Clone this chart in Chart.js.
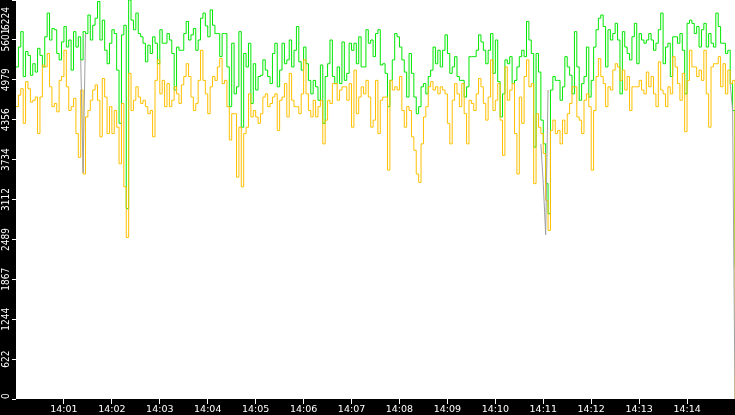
<!DOCTYPE html>
<html>
<head>
<meta charset="utf-8">
<script src="https://cdn.jsdelivr.net/npm/chart.js@4.4.1/dist/chart.umd.min.js"></script>
<style>
  html, body { margin: 0; padding: 0; background: #000; }
  #chart { display: block; }
</style>
</head>
<body>
<canvas id="chart" width="735" height="415"></canvas>
<script>
// one sample every 3 seconds starting at 14:00:00
const STEP = 3;

const xTickLabels = ['14:01', '14:02', '14:03', '14:04', '14:05', '14:06', '14:07',
                     '14:08', '14:09', '14:10', '14:11', '14:12', '14:13', '14:14'];
const yTickLabels = ['0', '622', '1244', '1867', '2489', '3112', '3734', '4356', '4979', '5601', '6224'];

const greenValues = [
  5180, 5490, 5730, 5030, 5420, 5360, 5050, 5230, 5100, 5470, 5360, 5180, 5650, 6020, 5600, 5780, 5760, 5390, 5290, 5570,
  5810, 5490, 5600, 5130, 5730, 5490, 5650, 5290, 5730, 5700, 5990, 5600, 5830, 5940, 6200, 5600, 5910, 5440,
  5230, 5550, 5760, 5700, 5130, 4300, 5680, 5830, 2970, 6224, 5910, 5760, 6020, 5700, 5650, 5550, 5260, 5520, 5390, 5650,
  5550, 5230, 5760, 5550, 5550, 5700, 5600, 5390, 4820, 5490, 5440, 5440, 5700, 5890, 5600, 5680, 5780, 5440,
  5600, 5940, 6020, 5820, 5650, 6070, 5830, 5700, 5700, 5340, 5700, 5700, 5180, 4560, 5550, 4760, 4870, 5730, 4240, 5390,
  5180, 5550, 4610, 5230, 4820, 5030, 5050, 5290, 5130, 5030, 4920, 5390, 5550, 4870, 5130, 5550, 5230,
  5290, 5600, 5180, 5440, 5810, 5260, 5130, 5490, 5230, 4970, 4760, 4970, 4870, 4660, 5210, 4300, 5030, 5230, 5600, 5030,
  4920, 5180, 4920, 5570, 4970, 5080, 5550, 5440, 5550, 5230, 5650, 5180, 5180, 5760, 5550, 5600, 5340, 5700,
  5760, 5210, 5230, 5080, 4560, 4970, 5290, 5700, 5650, 5490, 5290, 5100, 4710, 5390, 5080, 4710, 4450, 4560, 4870, 4920,
  4760, 5030, 5130, 5490, 5230, 5440, 5180, 5440, 5680, 5390, 5080, 5180, 5340, 5030, 4970, 4970, 4710,
  4870, 5340, 5340, 5340, 5440, 5680, 5570, 5440, 5230, 5440, 5700, 5080, 5600, 4950, 4400, 4760, 5290, 5230, 5340, 4920,
  4970, 5180, 5340, 5440, 5340, 5890, 5600, 5390, 3930, 5390, 5100, 4350, 3980, 3360, 2890, 4820, 5030, 4970,
  4970, 4660, 4870, 5340, 5180, 5050, 4760, 5730, 5180, 4660, 4920, 5030, 5490, 4710, 4970, 5490, 5760, 5940, 5990, 5810,
  5180, 5760, 5600, 5700, 5860, 5600, 4760, 5730, 5490, 5390, 5290, 5650, 5860, 5230, 5700, 5600, 5550,
  5600, 5700, 5600, 5440, 5550, 5760, 6020, 5230, 5490, 5550, 5030, 5650, 5650, 5550, 5700, 5440, 4760, 5860, 5910, 5860,
  5700, 5810, 5490, 5760, 5860, 5490, 5700, 5550, 5490, 6020, 5810, 5550, 5550, 5390, 5440, 4920, 4500, 2050
];

const orangeValues = [
  4560, 4740, 4840, 4300, 4950, 4840, 4630, 4660, 4710, 4140, 4710, 5210, 5180, 5390, 4870, 4560, 4610, 4480, 4970, 5030,
  5440, 4870, 4500, 4560, 4690, 4140, 3770, 4820, 3510, 4400, 4500, 4660, 4820, 4900, 4660, 4090, 5000, 4710,
  4140, 4560, 4140, 4500, 4240, 3670, 4610, 3310, 2520, 5080, 4500, 4660, 4870, 4710, 4610, 4660, 4560, 4450, 4500, 4090,
  4970, 5290, 4760, 4970, 4560, 4920, 4560, 4660, 4870, 4760, 4610, 4900, 5030, 5230, 5030, 4710, 4500, 4610,
  4970, 5440, 4970, 4760, 4450, 4870, 5030, 4970, 5180, 5310, 4920, 4970, 4560, 4040, 4450, 4450, 3460, 4240, 3310, 4140,
  4240, 4760, 4400, 4500, 4400, 4300, 4450, 4710, 4760, 4560, 4610, 4710, 4760, 4190, 4660, 4710, 4920,
  4400, 5080, 4660, 4560, 4560, 4450, 4760, 5290, 4760, 4500, 4400, 4660, 4400, 4560, 4660, 3980, 4350, 4660, 4610, 4920,
  4920, 4660, 4820, 4870, 4870, 4660, 4920, 4240, 5130, 4450, 4710, 4870, 4760, 4970, 4710, 4240, 4350, 4970,
  4140, 4660, 4710, 4710, 3570, 4970, 4820, 4870, 4820, 5030, 4500, 4240, 4560, 4500, 4090, 3880, 3510, 3380, 3980, 4400,
  4560, 4870, 4950, 4820, 4870, 4760, 4870, 4820, 4760, 4300, 3980, 4660, 4920, 4760, 4560, 4920, 4450,
  3980, 4660, 4610, 4500, 4760, 5000, 4870, 4610, 4350, 4710, 5290, 4500, 4660, 4920, 4350, 3800, 5180, 4660, 4820, 4920,
  4140, 3510, 4710, 4300, 5030, 5290, 4870, 4920, 3360, 4450, 4240, 4140, 3830, 3100, 2630, 4190, 4350, 4140,
  4190, 3980, 4350, 4140, 4450, 4610, 4870, 4870, 4400, 4350, 4140, 4660, 4760, 4560, 3570, 4500, 5030, 5310, 5030, 4920,
  4560, 4870, 4820, 5130, 5230, 5180, 4970, 5130, 4820, 5030, 4500, 4870, 4870, 4870, 4970, 4820, 4760,
  5100, 4870, 5030, 4760, 4560, 5260, 4820, 4760, 4560, 4870, 4760, 5340, 5180, 4920, 4660, 5080, 4170, 4970, 5440, 5180,
  5180, 5030, 5130, 4970, 5440, 4760, 4240, 5180, 5230, 5230, 5340, 4870, 5230, 4760, 5130, 4920, 4970, 0
];

// the thin grey trace only shows where it leaves the green one
const grayTimes  = [81, 84, 87, 88, 657, 660, 663, 666, 667, 894, 897, 900];
const grayValues = [5290, 3530, 5700, null, 3980, 3360, 2560, 4820, null, 4920, 4500, 0];

const toPoints = vals => vals.map((v, i) => ({ x: i * STEP, y: v }));

const panelBg = {
  id: 'panelBg',
  beforeDraw(chart) {
    const { ctx, chartArea: a } = chart;
    ctx.save();
    ctx.fillStyle = '#000';
    ctx.fillRect(0, 0, chart.width, chart.height);
    ctx.fillStyle = '#fff';
    ctx.fillRect(a.left, a.top, a.right - a.left, a.bottom - a.top);
    ctx.restore();
  }
};

// y labels run bottom-to-top and are kept inside the plot height
const yLabels = {
  id: 'yLabels',
  afterDraw(chart) {
    const scale = chart.scales.y;
    const ctx = chart.ctx;
    ctx.save();
    ctx.font = '10px "Liberation Sans Narrow", "DejaVu Sans Condensed", sans-serif';
    ctx.fillStyle = '#fff';
    ctx.textAlign = 'center';
    ctx.textBaseline = 'middle';
    scale.ticks.forEach((t, i) => {
      const w = ctx.measureText(yTickLabels[i]).width;
      let y = scale.getPixelForValue(t.value);
      if (y - w / 2 < 0) y = w / 2 + 7;
      if (y + w / 2 > scale.bottom) y = scale.bottom - w / 2;
      ctx.save();
      ctx.translate(6.5, y);
      ctx.rotate(-Math.PI / 2);
      ctx.fillText(yTickLabels[i], 0, 0);
      ctx.restore();
    });
    ctx.restore();
  }
};

new Chart(document.getElementById('chart'), {
  type: 'line',
  data: {
    datasets: [
      {
        data: grayTimes.map((t, i) => ({ x: t, y: grayValues[i] })),
        borderColor: '#a0a0a0',
        borderWidth: 1,
        pointRadius: 0,
        spanGaps: false
      },
      {
        data: toPoints(orangeValues),
        borderColor: '#ffc000',
        borderWidth: 1,
        pointRadius: 0,
        stepped: true
      },
      {
        data: toPoints(greenValues),
        borderColor: '#00e800',
        borderWidth: 1,
        pointRadius: 0,
        stepped: true
      }
    ]
  },
  options: {
    responsive: false,
    animation: false,
    devicePixelRatio: 1,
    events: [],
    layout: { padding: 0 },
    plugins: { legend: { display: false }, tooltip: { enabled: false } },
    scales: {
      x: {
        type: 'linear',
        min: 0,
        max: 900,
        afterBuildTicks: s => { s.ticks = xTickLabels.map((l, i) => ({ value: (i + 1) * 60 })); },
        afterFit: s => { s.height = 16; },
        grid: { drawOnChartArea: false, tickLength: 5, color: '#fff' },
        border: { display: false },
        ticks: {
          color: '#fff',
          padding: 0,
          autoSkip: false,
          maxRotation: 0,
          font: { family: 'DejaVu Sans', size: 9.5 },
          callback: (v, i) => xTickLabels[i]
        }
      },
      y: {
        min: 0,
        max: 6224,
        afterBuildTicks: s => { s.ticks = yTickLabels.map(l => ({ value: Number(l) })); },
        afterFit: s => { s.width = 16; },
        grid: { drawOnChartArea: false, tickLength: 4, color: '#fff' },
        border: { display: false },
        ticks: { display: false }
      }
    }
  },
  plugins: [panelBg, yLabels]
});
</script>
</body>
</html>
